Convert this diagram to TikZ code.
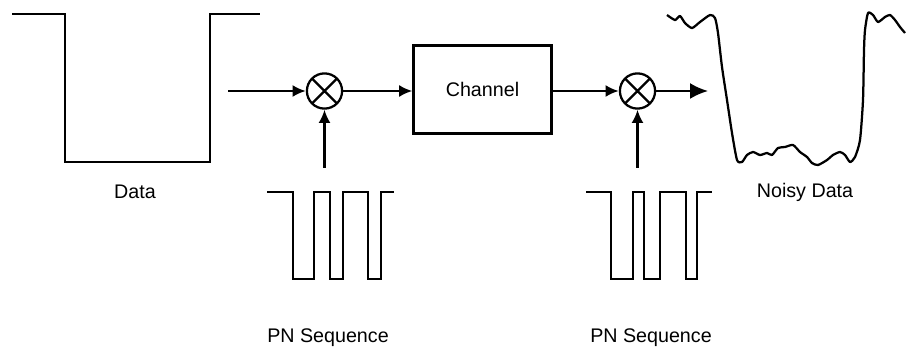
\documentclass[tikz,border=0pt]{standalone}
\usepackage{fontspec}
\setmainfont{Liberation Sans}
\usetikzlibrary{positioning, arrows.meta}
\tikzset{>={Latex[length=3.3mm,width=3mm]}}
\tikzset{
    mixer/.style = {circle, draw, line width=1.6pt, minimum size=0.88cm, inner sep=0pt,
                        path picture={\draw[line width=1.6pt]
                          (path picture bounding box.north west) -- (path picture bounding box.south east)
                          (path picture bounding box.north east) -- (path picture bounding box.south west);}},
    block/.style = {rectangle, draw, line width=1.6pt, minimum width=3.45cm,
                        minimum height=2.2cm, align=center},
    label/.style = {anchor=base},
    wave/.style = {line width=1.6pt, line join=miter}
}

\begin{document}
\begin{tikzpicture}[x=0.025cm, y=-0.025cm]
			\tikzstyle{every node}=[font=\fontsize{14}{16}\selectfont]
			\useasboundingbox (0,0) rectangle (906,347);
			% data waveform
			\draw [wave] (12,14) -- (65,14) -- (65,162) -- (210,162) -- (210,14) -- (260,14);
			\node (data) [label] at (135,198) {Data};
			% transmitter side
			\coordinate (din) at (228,91);
			\node (mix1) [mixer] at (324.5,91) {};
			\node (chan) [block] at (482.5,89.5) {Channel};
			\node (mix2) [mixer] at (637.5,91) {};
			\coordinate (dout) at (708,91);
			\draw [->, line width=1.6pt] (din) to (mix1);
			\draw [->, line width=1.6pt] (mix1) to (chan.west |- mix1);
			\draw [->, line width=1.6pt] (chan.east |- mix2) to (mix2);
			\draw [-{Latex[length=4.5mm,width=4mm]}, line width=1.6pt] (mix2) to (dout);
			% PN sequences
			\draw [wave] (267,192) -- (293,192) -- (293,279) -- (314,279) -- (314,192) -- (330,192) -- (330,279)
			  -- (343,279) -- (343,192) -- (368,192) -- (368,279) -- (381,279) -- (381,192) -- (394,192);
			\draw [wave] (586,192) -- (611,192) -- (611,279) -- (633,279) -- (633,192) -- (644,192) -- (644,279)
			  -- (660,279) -- (660,192) -- (686,192) -- (686,279) -- (697,279) -- (697,192) -- (712,192);
			\coordinate (pn1) at (324.5,168);
			\coordinate (pn2) at (637.5,168);
			\draw [->, line width=1.6pt] (pn1) to (mix1);
			\draw [->, line width=1.6pt] (pn2) to (mix2);
			\node (pnlab1) [label] at (328,342) {PN Sequence};
			\node (pnlab2) [label] at (651,342) {PN Sequence};
			% noisy data
			\draw [wave, line join=round] plot[smooth, tension=0.4] coordinates {(667,15) (675,20) (680,16) (685,23)
			  (692,28) (700,22) (710,15) (715,18) (718,33) (722,67) (727,100) (732,133) (737,160) (742,162)
			  (747,155) (753,152) (760,155) (767,153) (772,155) (778,148) (785,147) (793,145) (800,152)
			  (807,157) (812,163) (818,165) (827,160) (833,155) (840,152) (845,155) (850,162) (855,157)
			  (860,140) (863,100) (864,50) (865,30) (868,13) (873,15) (878,22) (885,17) (890,15) (895,20)
			  (900,27) (905,33)};
			\node (noisy) [label] at (805,197) {Noisy Data};
		\end{tikzpicture}
\end{document}
